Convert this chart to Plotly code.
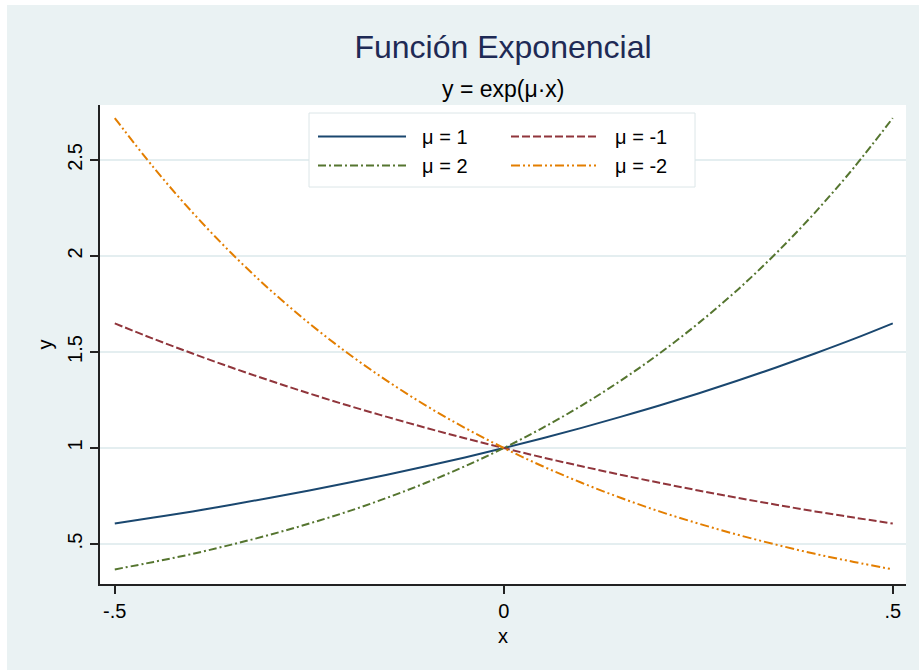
import plotly.graph_objects as go

# x grid and values
x_vals = [-0.50, -0.45, -0.40, -0.35, -0.30, -0.25, -0.20, -0.15, -0.10, -0.05,
          0.00, 0.05, 0.10, 0.15, 0.20, 0.25, 0.30, 0.35, 0.40, 0.45, 0.50]
y_mu_p1 = [0.607, 0.638, 0.670, 0.705, 0.741, 0.779, 0.819, 0.861, 0.905, 0.951,
           1.000, 1.051, 1.105, 1.162, 1.221, 1.284, 1.350, 1.419, 1.492, 1.568, 1.649]
y_mu_m1 = [1.649, 1.568, 1.492, 1.419, 1.350, 1.284, 1.221, 1.162, 1.105, 1.051,
           1.000, 0.951, 0.905, 0.861, 0.819, 0.779, 0.741, 0.705, 0.670, 0.638, 0.607]
y_mu_p2 = [0.368, 0.407, 0.449, 0.497, 0.549, 0.607, 0.670, 0.741, 0.819, 0.905,
           1.000, 1.105, 1.221, 1.350, 1.492, 1.649, 1.822, 2.014, 2.226, 2.460, 2.718]
y_mu_m2 = [2.718, 2.460, 2.226, 2.014, 1.822, 1.649, 1.492, 1.350, 1.221, 1.105,
           1.000, 0.905, 0.819, 0.741, 0.670, 0.607, 0.549, 0.497, 0.449, 0.407, 0.368]

series_names = ["μ = 1", "μ = -1", "μ = 2", "μ = -2"]
series_vals = [y_mu_p1, y_mu_m1, y_mu_p2, y_mu_m2]
series_colors = ["#1a476f", "#90353b", "#55752f", "#e37e00"]
series_dash = ["solid", "8px,3px", "8px,3px,2px,3px", "9px,3px,2px,3px,2px,3px"]
series_legend = ["legend", "legend2", "legend", "legend2"]

x_ticks = [-0.5, 0, 0.5]
x_ticklabels = ["-.5", "0", ".5"]
y_ticks = [0.5, 1, 1.5, 2, 2.5]
y_ticklabels = [".5", "1", "1.5", "2", "2.5"]

W, H = 919, 670
ML, MR, MT, MB = 100, 13, 105, 86
BG = "#eaf2f3"
FONT = "Liberation Sans, Arial, sans-serif"
NBSP = "\u00a0\u00a0"

fig = go.Figure()
for name, vals, col, dash, lg in zip(series_names, series_vals, series_colors,
                                     series_dash, series_legend):
    fig.add_trace(go.Scatter(x=x_vals, y=vals, mode="lines", name=NBSP + name,
                             legend=lg,
                             line=dict(color=col, width=2, dash=dash, shape="spline")))

pw = W - ML - MR
ph = H - MT - MB


def px_x(p):
    return (p - ML) / pw


def px_y(p):
    return (H - MB - p) / ph


legend_common = dict(orientation="v", xanchor="left", yanchor="top",
                     bgcolor="rgba(0,0,0,0)", borderwidth=0,
                     font=dict(size=20, family=FONT), itemwidth=88,
                     traceorder="normal")

fig.update_layout(
    width=W, height=H,
    margin=dict(l=ML, r=MR, t=MT, b=MB),
    paper_bgcolor="white",
    plot_bgcolor="white",
    font=dict(family=FONT, color="black", size=19),
    title=dict(text="Función Exponencial", x=0.5, xref="paper", xanchor="center",
               y=1 - 47 / H, yref="container", yanchor="middle",
               font=dict(size=32, color="#1e2a55", family=FONT)),
    annotations=[dict(text="y = exp(μ·x)", x=0.5, xref="paper", xanchor="center",
                      y=px_y(89), yref="paper", yanchor="middle",
                      showarrow=False, font=dict(size=23, color="black", family=FONT))],
    shapes=[
        dict(type="rect", xref="paper", yref="paper", layer="below",
             x0=px_x(7), x1=px_x(W + 20), y0=px_y(H + 20), y1=px_y(5),
             fillcolor=BG, line=dict(width=0)),
        dict(type="rect", xref="x domain", yref="y domain", layer="below",
             x0=0, x1=1, y0=0, y1=1, fillcolor="white", line=dict(width=0)),
        dict(type="rect", xref="paper", yref="paper", layer="above",
             x0=px_x(309), x1=px_x(695), y0=px_y(187), y1=px_y(113),
             fillcolor="white", line=dict(color="#dce6e8", width=1)),
    ],
    showlegend=True,
    legend=dict(x=px_x(313), y=px_y(117), **legend_common),
    legend2=dict(x=px_x(506), y=px_y(117), **legend_common),
    xaxis=dict(range=[-0.519, 0.517], tickvals=x_ticks, ticktext=x_ticklabels,
               showgrid=False, zeroline=False, showline=True, linecolor="#222",
               linewidth=1.5, ticks="outside", ticklen=8, tickwidth=1.5, tickcolor="#222",
               tickfont=dict(size=20),
               title=dict(text="x", font=dict(size=20), standoff=8)),
    yaxis=dict(range=[0.292, 2.786], tickvals=y_ticks, ticktext=y_ticklabels,
               showgrid=True, gridcolor="#e4eef0", gridwidth=2, zeroline=False,
               showline=True, linecolor="#222", linewidth=1.5,
               ticks="outside", ticklen=8, tickwidth=1.5, tickcolor="#222",
               tickangle=-90, tickfont=dict(size=20),
               title=dict(text="y", font=dict(size=20), standoff=6)),
)

fig.write_html("out.html")
